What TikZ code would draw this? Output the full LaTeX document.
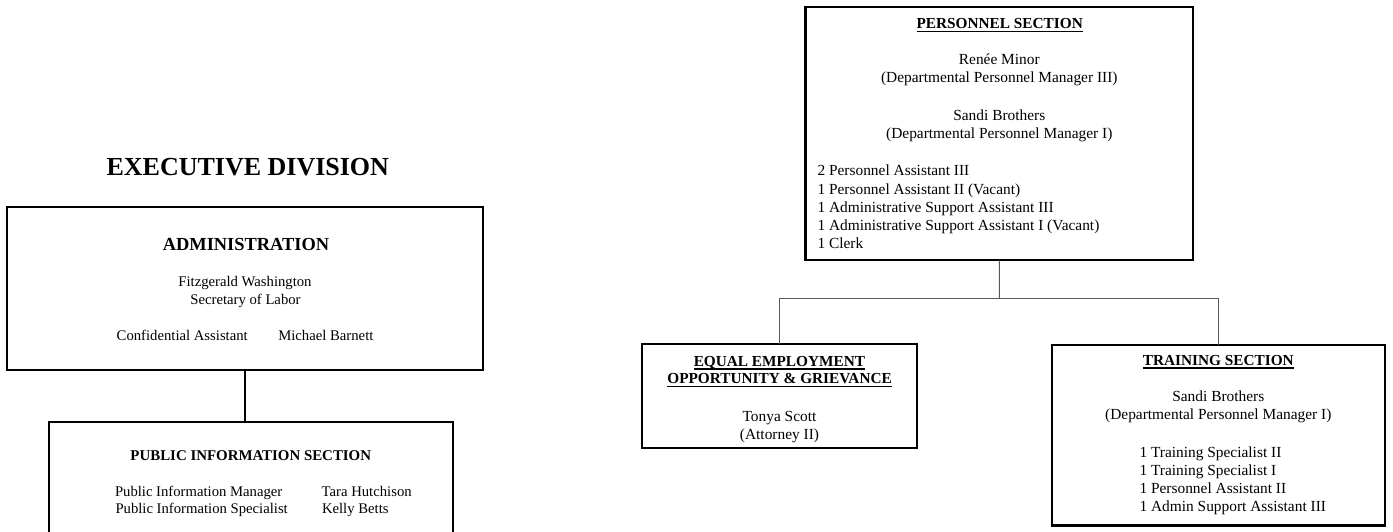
\documentclass[tikz,border=0pt]{standalone}
\usepackage{fontspec}
\setmainfont{Liberation Serif}

% font sizes for the two halves of the chart
\newcommand{\fstitle}{\fontsize{26}{30}\selectfont\bfseries}
\newcommand{\fsbighead}{\fontsize{18.4}{22}\selectfont\bfseries}
\newcommand{\fsleft}{\fontsize{14.7}{17.6}\selectfont}
\newcommand{\fslefthead}{\fontsize{14.9}{17.6}\selectfont\bfseries}
\newcommand{\fsright}{\fontsize{15.4}{18.2}\selectfont}
\newcommand{\fsrighthead}{\fontsize{15.3}{17.3}\selectfont\bfseries}
% heading with a heavy underline
\newcommand{\ulhead}[1]{\setbox0\hbox{#1}\rlap{\rule[-3.5pt]{\wd0}{1.2pt}}\box0}

\tikzset{
  orgbox/.style={draw=black, line width=2.2pt, rectangle, inner sep=0pt, outer sep=0pt},
  txt/.style={inner sep=0pt, outer sep=0pt, anchor=base, text=black},
  txtw/.style={inner sep=0pt, outer sep=0pt, anchor=base west, text=black},
  heavylink/.style={draw=black, line width=2pt},
  thinlink/.style={draw=black!65, line width=1pt},
}

\begin{document}
\begin{tikzpicture}[x=1pt,y=-1pt]
\clip (0,0) rectangle (1393,531);
\fill[white] (0,0) rectangle (1393,531);

% ---------------- Executive division ----------------
\node[txt, font=\fstitle] (title) at (247.8,175) {EXECUTIVE DIVISION};

\node[orgbox, minimum width=476.6pt, minimum height=163.3pt] (admin) at (245,288.35) {};
\node[txt, font=\fsbighead] (adminhead) at (246,250) {ADMINISTRATION};
\node[txt, font=\fsleft] (fitz) at (245,286.7) {Fitzgerald Washington};
\node[txt, font=\fsleft] (sec) at (245.5,304.3) {Secretary of Labor};
\node[txtw, font=\fsleft] (conf) at (116.7,340.7) {Confidential Assistant};
\node[txtw, font=\fsleft] (barnett) at (278.3,340.7) {Michael Barnett};

\node[orgbox, minimum width=404pt, minimum height=140pt] (pubinfo) at (251.3,491.7) {};
\node[txt, font=\fslefthead] (pubhead) at (250.8,460) {PUBLIC INFORMATION SECTION};
\node[txtw, font=\fsleft] (pim) at (115,496) {Public Information Manager};
\node[txtw, font=\fsleft] (pis) at (115.5,513.3) {Public Information Specialist};
\node[txtw, font=\fsleft] (tara) at (321.7,496) {Tara Hutchison};
\node[txtw, font=\fsleft] (kelly) at (322,513.3) {Kelly Betts};

\draw[heavylink] (admin.south) -- (admin.south |- pubinfo.north);

% ---------------- Personnel ----------------
\node[orgbox, minimum width=387.5pt, minimum height=253.6pt] (pers) at (999.25,133.5) {};
\node[txt, font=\fsrighthead] (pershead) at (999.7,28.3) {\ulhead{PERSONNEL SECTION}};
\node[txt, font=\fsright] (minor) at (999.3,64.3) {Renée Minor};
\node[txt, font=\fsright] (minorrole) at (999.3,82.7) {(Departmental Personnel Manager III)};
\node[txt, font=\fsright] (brothers) at (999.3,120) {Sandi Brothers};
\node[txt, font=\fsright] (brothersrole) at (999.3,138.3) {(Departmental Personnel Manager I)};
\node[txtw, font=\fsright] (p1) at (817.5,175.8) {2 Personnel Assistant III};
\node[txtw, font=\fsright] (p2) at (817.5,194) {1 Personnel Assistant II (Vacant)};
\node[txtw, font=\fsright] (p3) at (817.5,212.2) {1 Administrative Support Assistant III};
\node[txtw, font=\fsright] (p4) at (817.5,230.4) {1 Administrative Support Assistant I (Vacant)};
\node[txtw, font=\fsright] (p5) at (817.5,248.6) {1 Clerk};

% ---------------- EEO ----------------
\node[orgbox, minimum width=274.4pt, minimum height=104pt] (eeo) at (779.5,396.3) {};
\node[txt, font=\fsrighthead] (eeohead1) at (779.4,366) {\ulhead{EQUAL EMPLOYMENT}};
\node[txt, font=\fsrighthead] (eeohead2) at (779.6,383.3) {\ulhead{OPPORTUNITY \& GRIEVANCE}};
\node[txt, font=\fsright] (scott) at (779.5,421.7) {Tonya Scott};
\node[txt, font=\fsright] (scottrole) at (779.5,439.3) {(Attorney II)};

% ---------------- Training ----------------
\node[orgbox, minimum width=333pt, minimum height=180.5pt] (train) at (1218.2,435.25) {};
\node[txt, font=\fsrighthead] (trainhead) at (1218.3,365) {\ulhead{TRAINING SECTION}};
\node[txt, font=\fsright] (tbrothers) at (1218.3,401.7) {Sandi Brothers};
\node[txt, font=\fsright] (tbrothersrole) at (1218.3,419.2) {(Departmental Personnel Manager I)};
\node[txtw, font=\fsright] (t1) at (1139.5,457) {1 Training Specialist II};
\node[txtw, font=\fsright] (t2) at (1139.5,475.3) {1 Training Specialist I};
\node[txtw, font=\fsright] (t3) at (1139.5,493.6) {1 Personnel Assistant II};
\node[txtw, font=\fsright] (t4) at (1139.5,511.9) {1 Admin Support Assistant III};

% connectors below the personnel section
\coordinate (bus) at (999.3,298);
\draw[thinlink] (pers.south) -- (bus);
\draw[thinlink] (eeo.north) -- (eeo.north |- bus) -- (train.north |- bus) -- (train.north);
\end{tikzpicture}
\end{document}
